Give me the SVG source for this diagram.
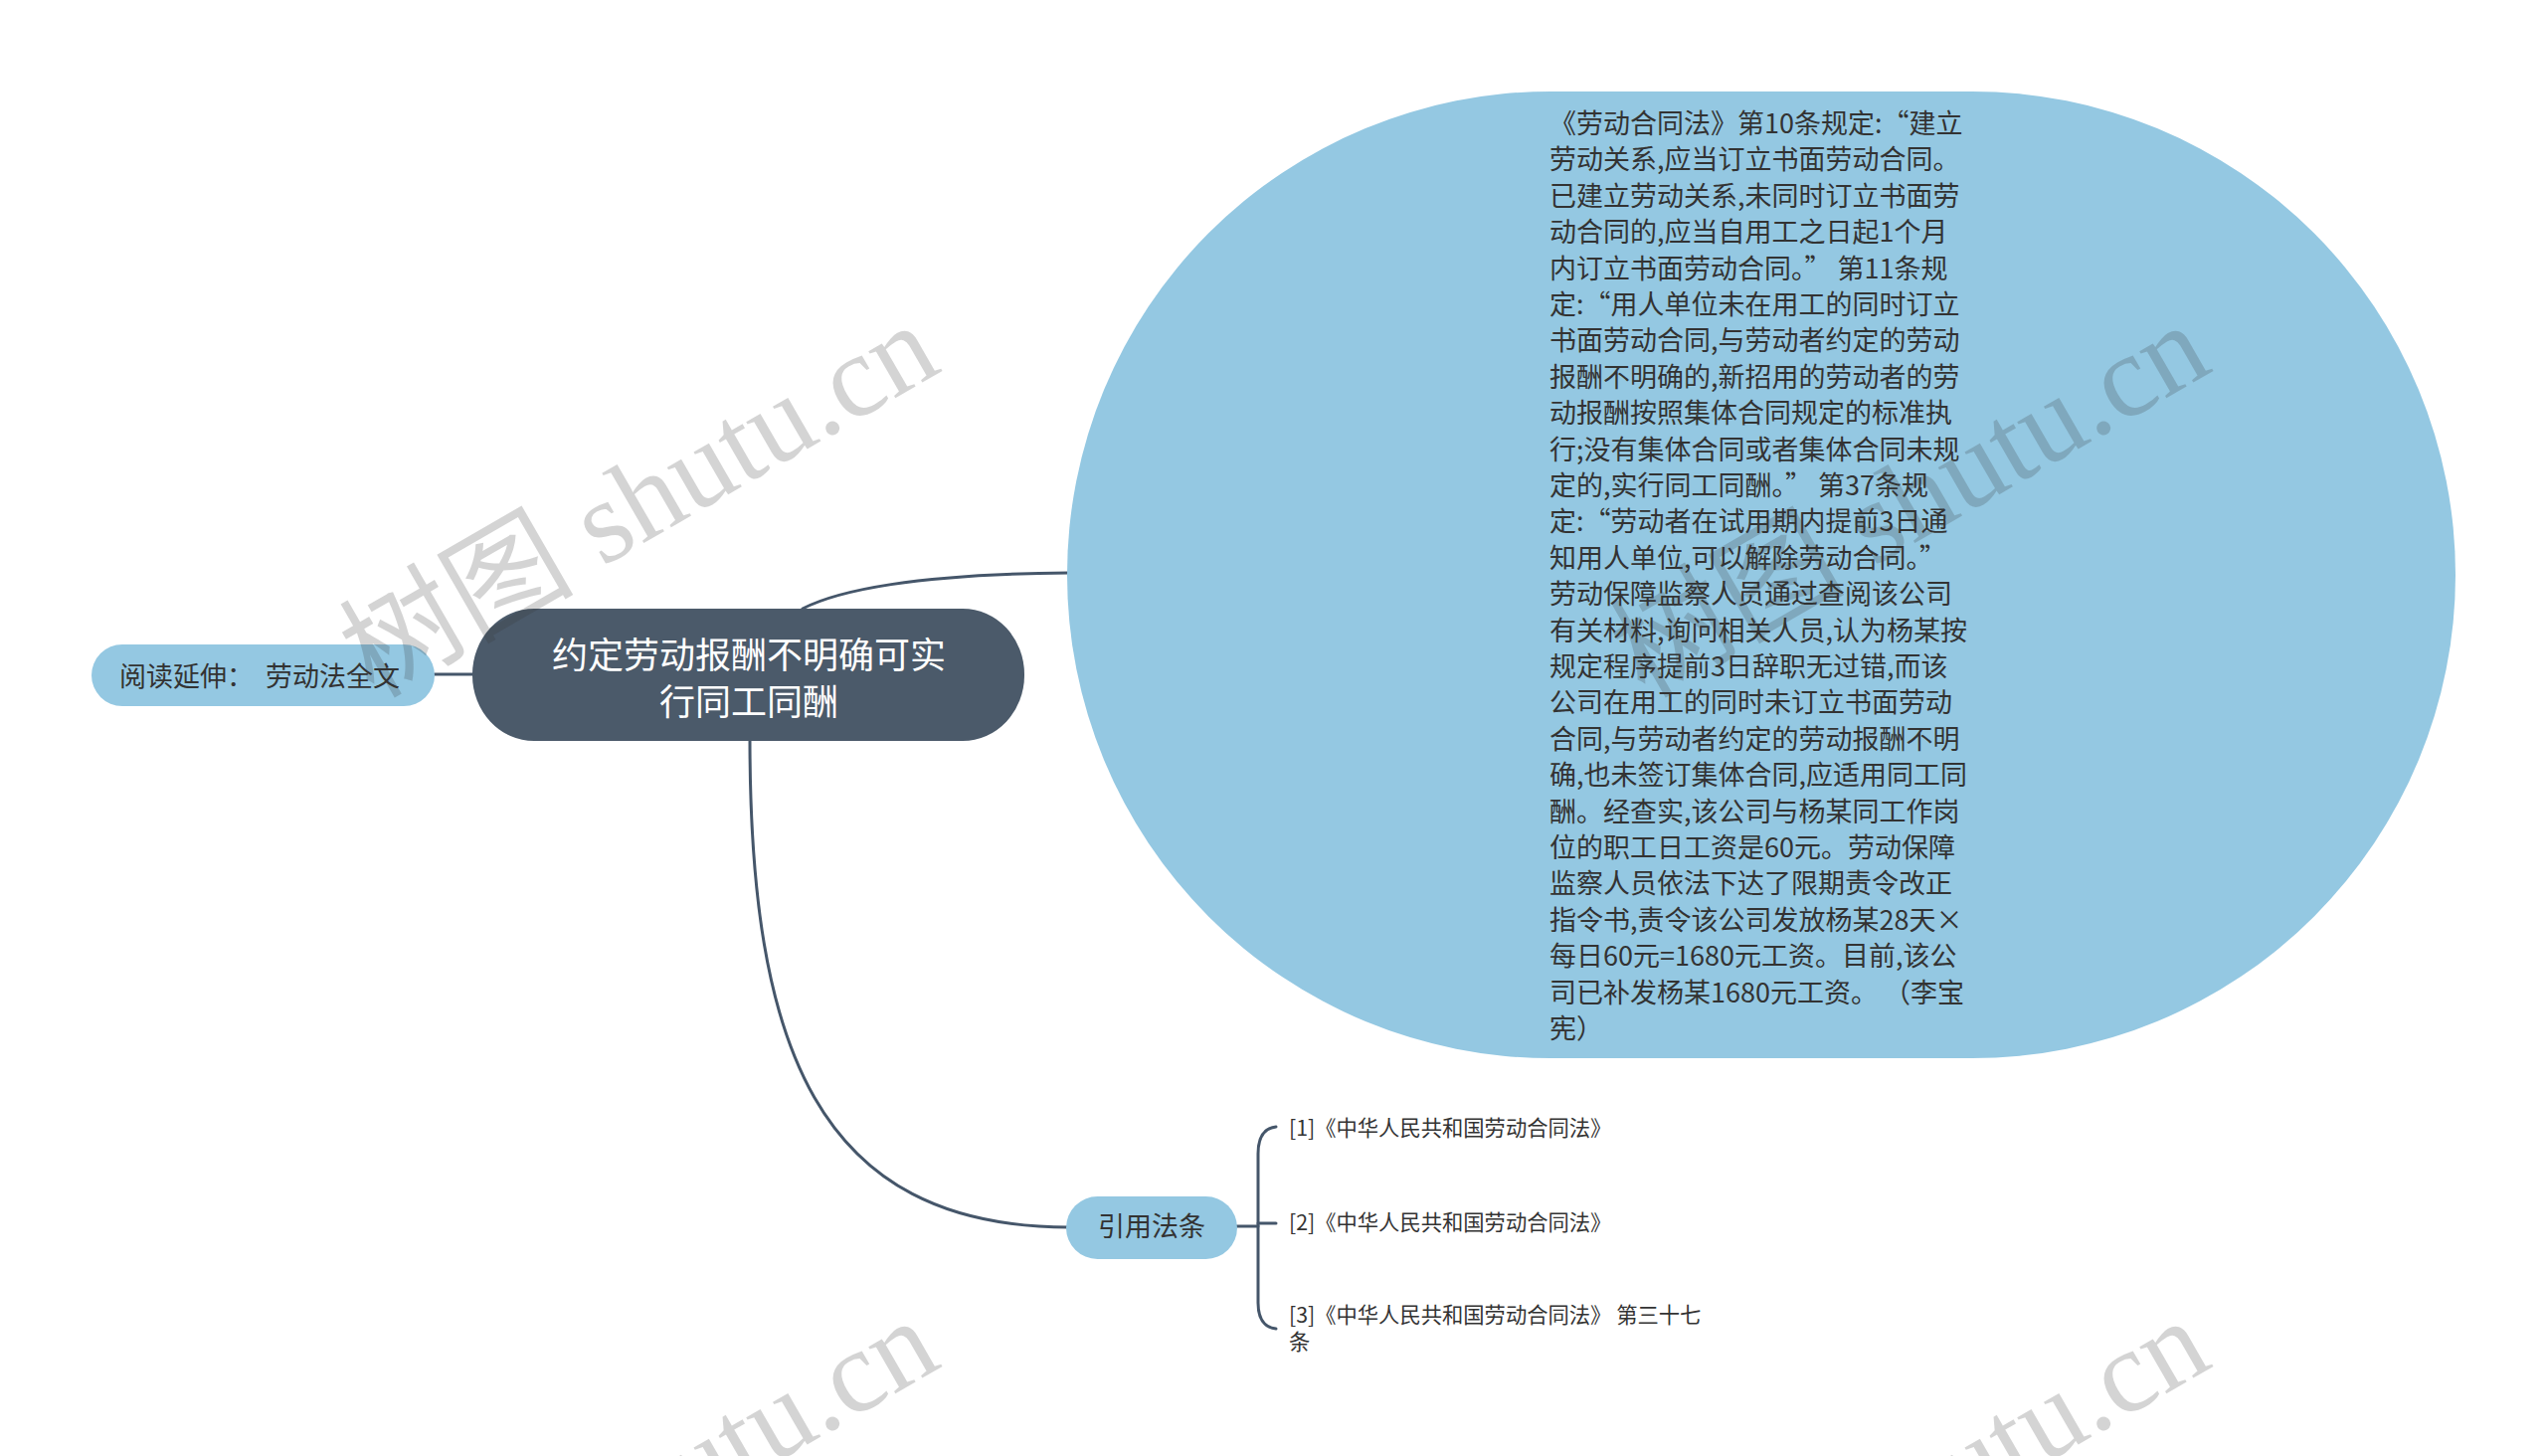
<svg xmlns="http://www.w3.org/2000/svg" width="2560" height="1464" viewBox="0 0 2560 1464">
<style>
.cjk{font-family:"Noto Sans CJK SC","Microsoft YaHei",sans-serif;}
.conn{fill:none;stroke:#45566a;stroke-width:3;stroke-linecap:round;}
.body{font-size:27px;fill:#333333;}
.leaf{font-size:21.3px;fill:#333333;}
.wm{font-family:"Liberation Serif","Noto Sans CJK SC",serif;font-size:118px;fill:#353535;fill-opacity:0.21;}
</style>
<rect width="2560" height="1464" fill="#ffffff"/>
<g id="connectors">
<path class="conn" d="M 437 678 L 477 678"/>
<path class="conn" d="M 807 612 C 842 594, 920 577, 1075 576"/>
<path class="conn" d="M 754 742 C 754 1050, 820 1234, 1075 1234"/>
<path class="conn" d="M 1242 1233 L 1265 1233"/>
<path class="conn" d="M 1283 1133 Q 1265 1135 1265 1160 L 1265 1310 Q 1265 1334 1283 1336"/>
<path class="conn" d="M 1265 1230 L 1283 1230"/>
</g>
<g id="node-root">
<rect x="475" y="612" width="555" height="133" rx="62" ry="66" fill="#4b5a6a"/>
<text class="cjk" font-size="36" fill="#ffffff" text-anchor="middle"><tspan x="753" y="672">约定劳动报酬不明确可实</tspan><tspan x="753" y="719">行同工同酬</tspan></text>
</g>
<g id="node-read">
<rect x="92" y="648" width="345" height="62" rx="31" fill="#94c8e2"/>
<text class="cjk" font-size="27" fill="#333333" x="120" y="690" xml:space="preserve">阅读延伸：  劳动法全文</text>
</g>
<g id="node-detail">
<rect x="1073" y="92" width="1396" height="972" rx="486" ry="486" fill="#94c8e2"/>
<text class="cjk body">
<tspan x="1558" y="134">《劳动合同法》第10条规定:“建立</tspan>
<tspan x="1558" y="170.4">劳动关系,应当订立书面劳动合同。</tspan>
<tspan x="1558" y="206.8">已建立劳动关系,未同时订立书面劳</tspan>
<tspan x="1558" y="243.2">动合同的,应当自用工之日起1个月</tspan>
<tspan x="1558" y="279.6">内订立书面劳动合同。” 第11条规</tspan>
<tspan x="1558" y="316">定:“用人单位未在用工的同时订立</tspan>
<tspan x="1558" y="352.4">书面劳动合同,与劳动者约定的劳动</tspan>
<tspan x="1558" y="388.8">报酬不明确的,新招用的劳动者的劳</tspan>
<tspan x="1558" y="425.2">动报酬按照集体合同规定的标准执</tspan>
<tspan x="1558" y="461.6">行;没有集体合同或者集体合同未规</tspan>
<tspan x="1558" y="498">定的,实行同工同酬。”  第37条规</tspan>
<tspan x="1558" y="534.4">定:“劳动者在试用期内提前3日通</tspan>
<tspan x="1558" y="570.8">知用人单位,可以解除劳动合同。”</tspan>
<tspan x="1558" y="607.2">劳动保障监察人员通过查阅该公司</tspan>
<tspan x="1558" y="643.6">有关材料,询问相关人员,认为杨某按</tspan>
<tspan x="1558" y="680">规定程序提前3日辞职无过错,而该</tspan>
<tspan x="1558" y="716.4">公司在用工的同时未订立书面劳动</tspan>
<tspan x="1558" y="752.8">合同,与劳动者约定的劳动报酬不明</tspan>
<tspan x="1558" y="789.2">确,也未签订集体合同,应适用同工同</tspan>
<tspan x="1558" y="825.6">酬。经查实,该公司与杨某同工作岗</tspan>
<tspan x="1558" y="862">位的职工日工资是60元。劳动保障</tspan>
<tspan x="1558" y="898.4">监察人员依法下达了限期责令改正</tspan>
<tspan x="1558" y="934.8">指令书,责令该公司发放杨某28天×</tspan>
<tspan x="1558" y="971.2">每日60元=1680元工资。目前,该公</tspan>
<tspan x="1558" y="1007.6">司已补发杨某1680元工资。 （李宝</tspan>
<tspan x="1558" y="1044">宪）</tspan>
</text>
</g>
<g id="node-law">
<rect x="1072" y="1203" width="172" height="63" rx="31.5" fill="#94c8e2"/>
<text class="cjk" font-size="27" fill="#333333" text-anchor="middle" x="1158" y="1243">引用法条</text>
</g>
<g id="leaf-1">
<text class="cjk leaf" x="1296" y="1142">[1]《中华人民共和国劳动合同法》</text>
</g>
<g id="leaf-2">
<text class="cjk leaf" x="1296" y="1237">[2]《中华人民共和国劳动合同法》</text>
</g>
<g id="leaf-3">
<text class="cjk leaf"><tspan x="1296" y="1330">[3]《中华人民共和国劳动合同法》 第三十七</tspan><tspan x="1296" y="1357">条</tspan></text>
</g>
<g id="watermarks">
<text class="wm" text-anchor="end" transform="translate(949 372) rotate(-30)">树图 shutu.cn</text>
<text class="wm" text-anchor="end" transform="translate(2227 372) rotate(-30)">树图 shutu.cn</text>
<text class="wm" text-anchor="end" transform="translate(949 1373) rotate(-30)">树图 shutu.cn</text>
<text class="wm" text-anchor="end" transform="translate(2227 1373) rotate(-30)">树图 shutu.cn</text>
</g>
</svg>
